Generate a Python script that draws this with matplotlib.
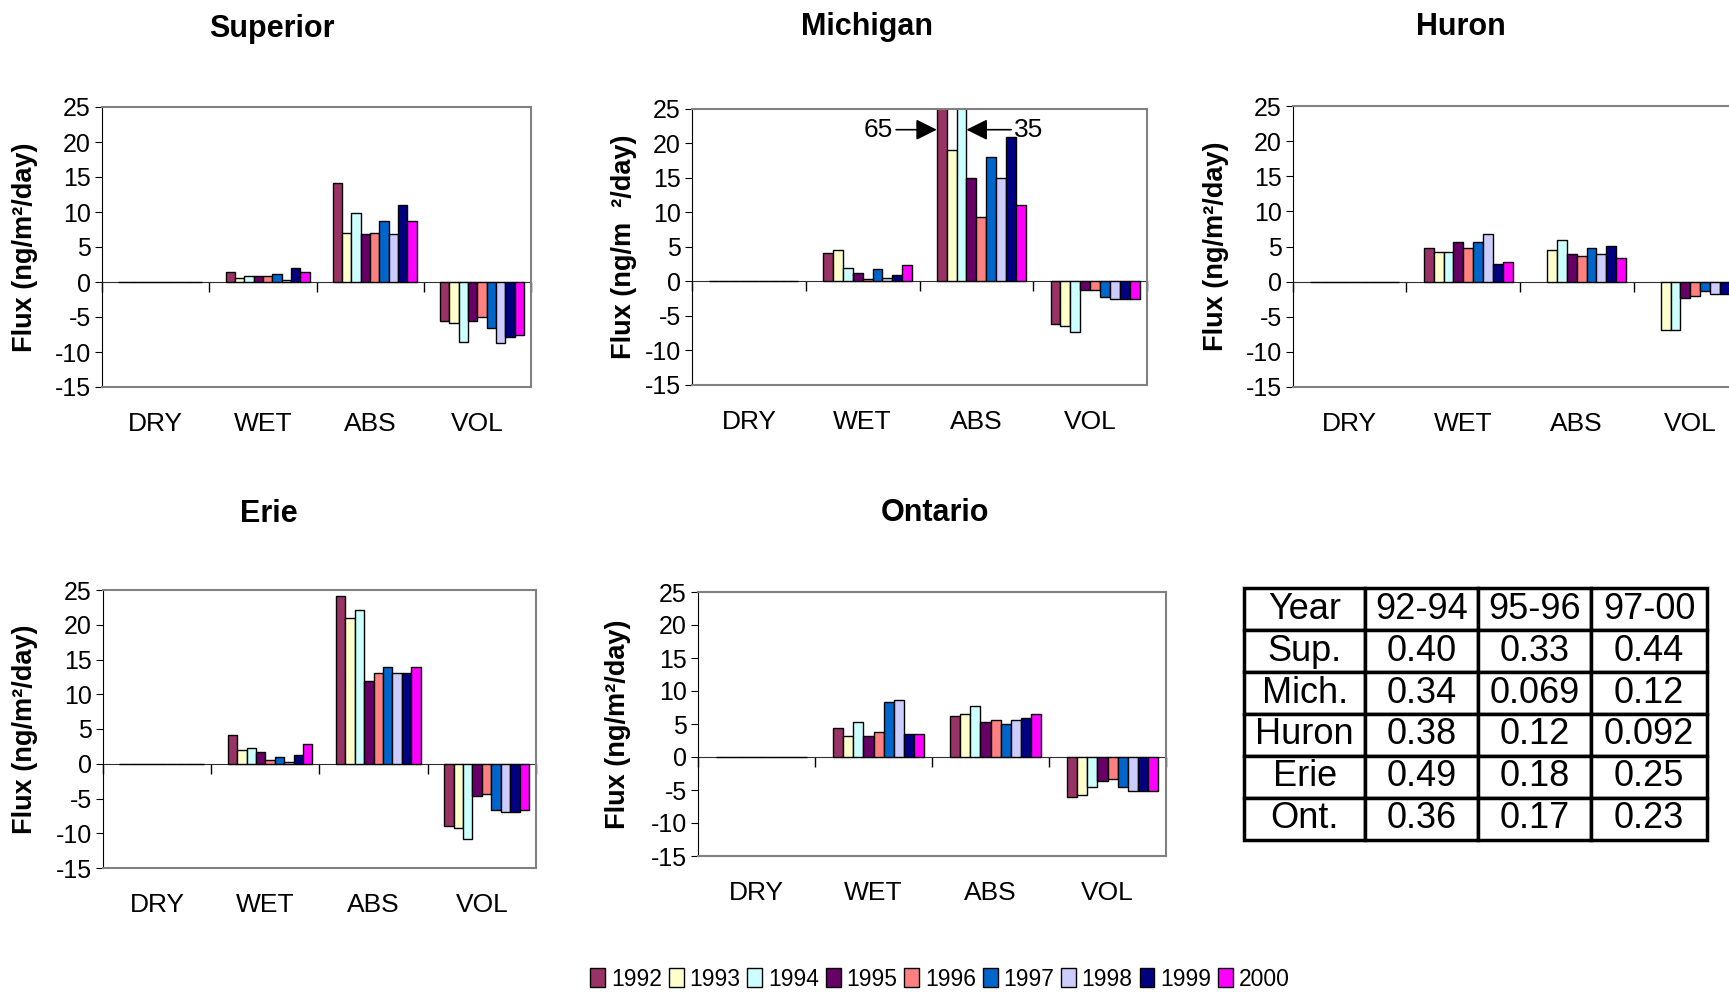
import numpy as np
import matplotlib
matplotlib.use("Agg")
import matplotlib.pyplot as plt
from matplotlib.patches import Patch

plt.rcParams['font.family'] = ['Liberation Sans', 'DejaVu Sans']
plt.rcParams['axes.unicode_minus'] = False

years = ['1992', '1993', '1994', '1995', '1996', '1997', '1998', '1999', '2000']
colors = ['#993366', '#FFFFCC', '#CCFFFF', '#660066', '#FF8080',
          '#0066CC', '#CCCCFF', '#000080', '#FF00FF']
categories = ['DRY', 'WET', 'ABS', 'VOL']

# fluxes per year, ng/m2/day  (DRY is empty in every lake)
dry = [0, 0, 0, 0, 0, 0, 0, 0, 0]

superior_wet = [1.5, 0.6, 0.9, 0.9, 0.9, 1.2, 0.3, 2.0, 1.5]
superior_abs = [14.2, 7.0, 9.9, 6.8, 7.0, 8.7, 6.8, 11.0, 8.7]
superior_vol = [-5.6, -5.9, -8.5, -5.6, -5.0, -6.6, -8.7, -7.8, -7.6]

michigan_wet = [4.2, 4.5, 2.0, 1.2, 0.3, 1.8, 0.5, 0.9, 2.4]
michigan_abs = [65, 19.0, 35, 15.0, 9.3, 18.0, 15.0, 21.0, 11.1]
michigan_vol = [-6.1, -6.4, -7.3, -1.2, -1.2, -2.2, -2.5, -2.5, -2.5]

huron_wet = [4.8, 4.2, 4.2, 5.6, 4.8, 5.6, 6.8, 2.5, 2.8]
huron_abs = [np.nan, 4.5, 5.9, 4.0, 3.7, 4.8, 4.0, 5.1, 3.4]
huron_vol = [np.nan, -6.9, -6.9, -2.3, -2.0, -1.4, -1.7, -1.7, -1.7]

erie_wet = [4.1, 2.0, 2.3, 1.7, 0.6, 0.9, 0.3, 1.2, 2.9]
erie_abs = [24.1, 21.0, 22.1, 11.9, 13.0, 13.9, 13.0, 13.0, 13.9]
erie_vol = [-9.0, -9.2, -10.8, -4.6, -4.3, -6.7, -7.0, -7.0, -6.7]

ontario_wet = [4.4, 3.2, 5.3, 3.2, 3.8, 8.4, 8.7, 3.5, 3.5]
ontario_abs = [6.2, 6.5, 7.8, 5.3, 5.6, 5.0, 5.6, 5.9, 6.5]
ontario_vol = [-6.1, -5.8, -4.6, -3.7, -3.4, -4.6, -5.2, -5.2, -5.2]

table_periods = ['92-94', '95-96', '97-00']
table_lakes = ['Sup.', 'Mich.', 'Huron', 'Erie', 'Ont.']
table_values = [['0.40', '0.33', '0.44'],
                ['0.34', '0.069', '0.12'],
                ['0.38', '0.12', '0.092'],
                ['0.49', '0.18', '0.25'],
                ['0.36', '0.17', '0.23']]

W, H = 1729, 994
fig = plt.figure(figsize=(W / 100, H / 100), dpi=100)

# 10 slots per category (first one empty), gap width 150 %
bw = 1 / 11.5


def px_axes(left, top, right, bottom):
    return fig.add_axes([left / W, 1 - bottom / H, (right - left) / W, (bottom - top) / H])


def flux_panel(box, title, title_xy, wet, ab, vol, ylab_off, ylabel):
    ax = px_axes(*box)
    for k in range(len(years)):
        x = np.arange(4) + 0.5 + (k + 1 - 4.5) * bw
        vals = [dry[k], wet[k], ab[k], vol[k]]
        ax.bar(x, vals, width=bw, color=colors[k], edgecolor='black', linewidth=1)
    ax.set_xlim(0, 4)
    ax.set_ylim(-15, 25)
    ax.set_yticks(range(-15, 30, 5))
    ax.set_xticks(np.arange(4) + 0.5)
    ax.set_xticklabels(categories, fontsize=19)
    ax.tick_params(axis='x', length=0, pad=18)
    ax.tick_params(axis='y', labelsize=18, length=5, pad=3)
    for s in ['top', 'right', 'bottom']:
        ax.spines[s].set_color('#808080')
        ax.spines[s].set_linewidth(1.5)
    ax.spines['left'].set_color('black')

    # category axis through zero
    sec = ax.secondary_xaxis(15 / 40)
    sec.set_xticks(range(5))
    sec.set_xticklabels([])
    sec.tick_params(axis='x', direction='out', length=7, width=1, color='black')
    sec.spines['bottom'].set_color('#303030')

    width_px = box[2] - box[0]
    ax.set_ylabel(ylabel, fontsize=19.5, fontweight='bold')
    ax.yaxis.set_label_coords(-ylab_off / width_px, 0.5)
    fig.text(title_xy[0] / W, 1 - title_xy[1] / H, title, fontsize=22,
             fontweight='bold', ha='center', va='center')
    return ax


ylab = 'Flux (ng/m²/day)'
flux_panel((102, 107, 531, 387), 'Superior', (272, 29), superior_wet, superior_abs,
           superior_vol, 64, ylab)
ax_m = flux_panel((692, 109, 1147, 385), 'Michigan', (867, 27), michigan_wet,
                  michigan_abs, michigan_vol, 55, 'Flux (ng/m  ²/day)')
flux_panel((1293, 106, 1747, 387), 'Huron', (1461, 27), huron_wet, huron_abs,
           huron_vol, 64, ylab)
flux_panel((103, 590, 536, 868), 'Erie', (269, 514), erie_wet, erie_abs,
           erie_vol, 65, ylab)
flux_panel((698, 592, 1166, 856), 'Ontario', (935, 513), ontario_wet, ontario_abs,
           ontario_vol, 67, ylab)

# off-scale Michigan ABS bars
arrow = dict(arrowstyle='-|>', color='black', lw=1.2, mutation_scale=32,
             shrinkA=0, shrinkB=0)
x92 = 2.5 + (1 - 4.5) * bw - bw / 2
x94 = 2.5 + (3 - 4.5) * bw + bw / 2
ax_m.annotate(f'{michigan_abs[0]:g}', xy=(x92, 22), xytext=(1.77, 22), ha='right',
              va='center', fontsize=19, arrowprops=arrow)
ax_m.annotate(f'{michigan_abs[2]:g}', xy=(x94, 22), xytext=(2.83, 22), ha='left',
              va='center', fontsize=19, arrowprops=arrow)

# legend
handles = [Patch(facecolor=c, edgecolor='black') for c in colors]
fig.legend(handles, years, loc='center', bbox_to_anchor=(940 / W, 1 - 979 / H),
           ncol=9, frameon=False, fontsize=16.5, handlelength=0.65, handleheight=0.9,
           handletextpad=0.25, columnspacing=0.3)

# table
ax_t = px_axes(1244, 588, 1707, 840)
ax_t.axis('off')
cells = [['Year'] + table_periods] + [[lake] + vals for lake, vals in zip(table_lakes, table_values)]
tbl = ax_t.table(cellText=cells, cellLoc='center', bbox=[0, 0, 1, 1],
                 colWidths=[110, 102, 103, 105])
tbl.auto_set_font_size(False)
tbl.set_fontsize(26)
for cell in tbl.get_celld().values():
    cell.set_linewidth(2.5)
    cell.set_edgecolor('black')

fig.savefig('out.png', dpi=100)
